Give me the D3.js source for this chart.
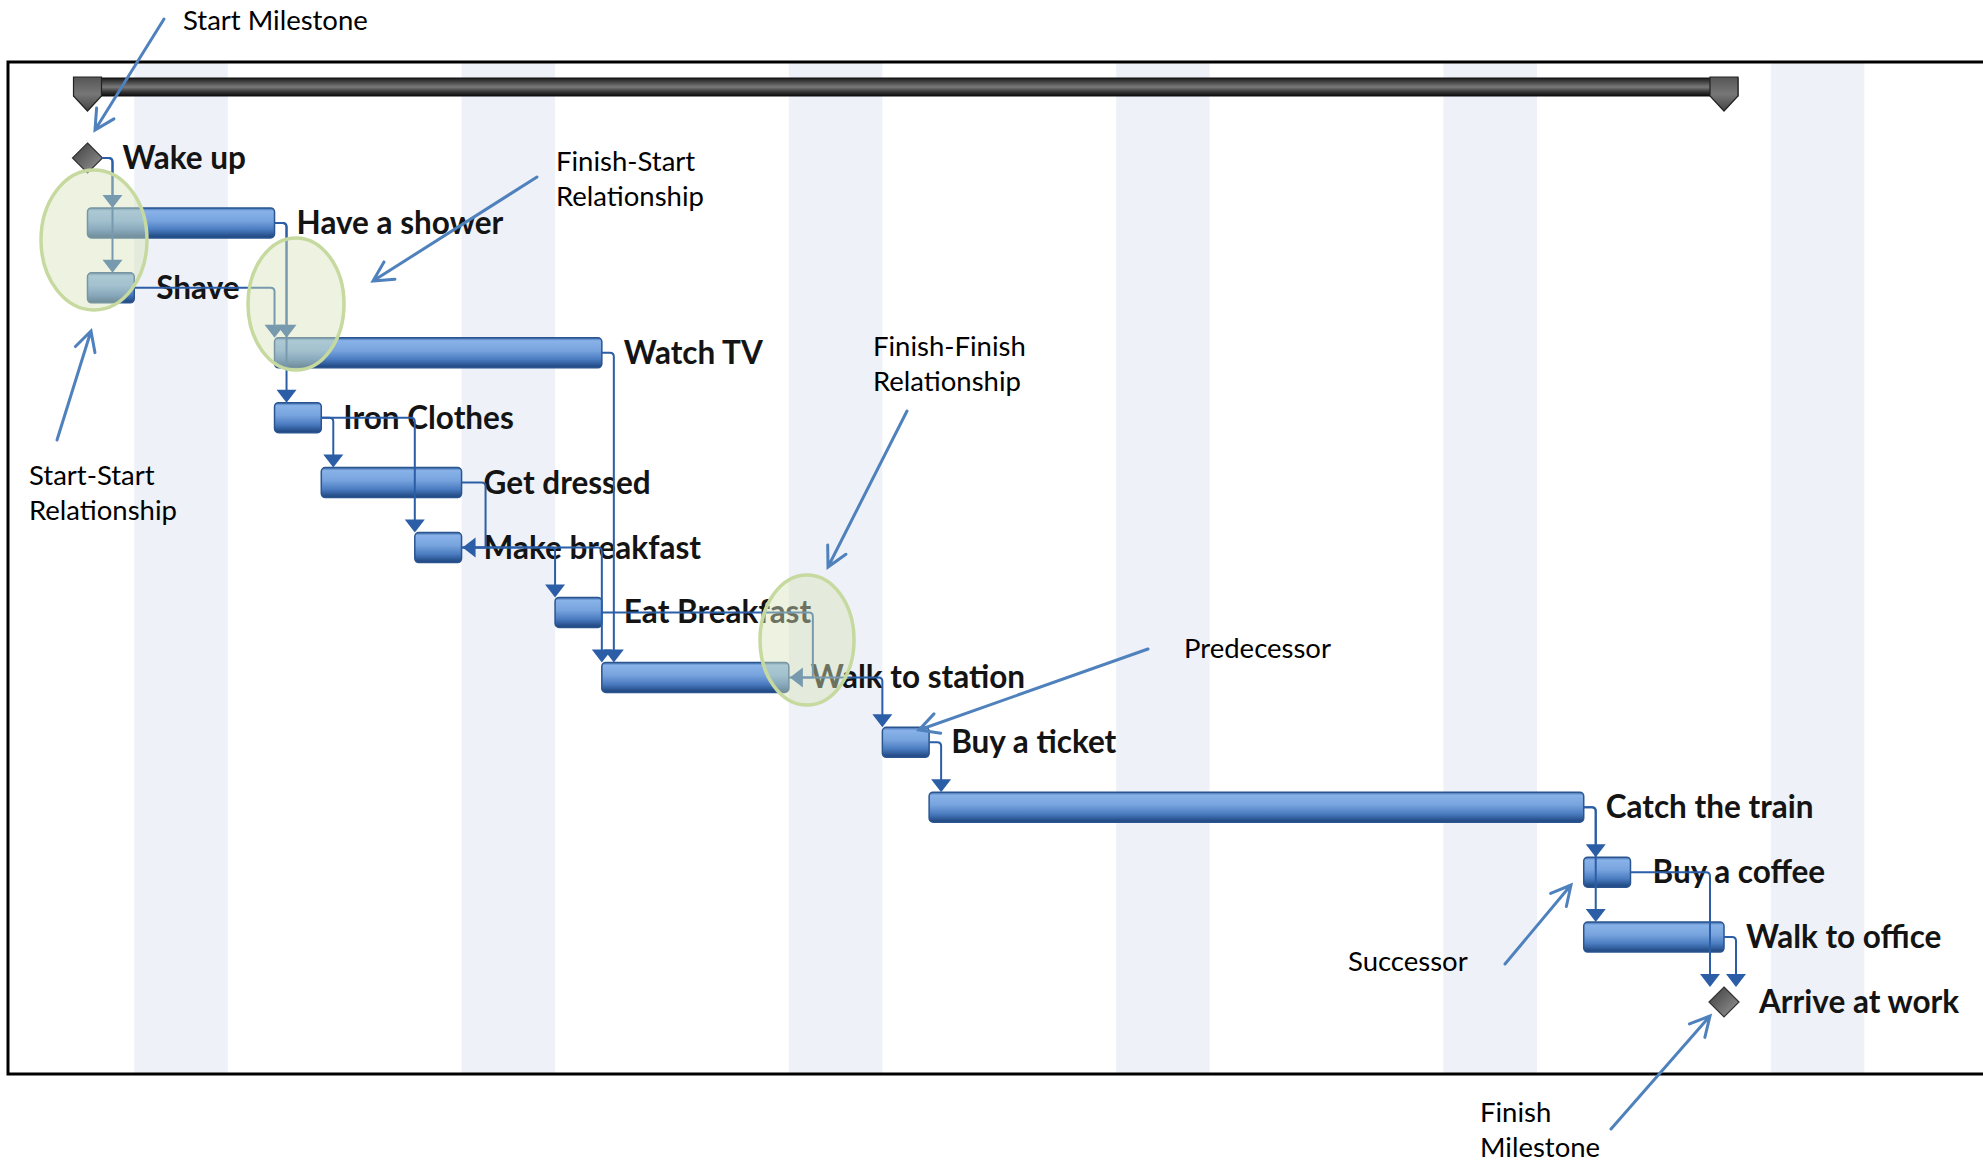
<!DOCTYPE html>
<html>
<head>
<meta charset="utf-8">
<script src="https://cdn.jsdelivr.net/npm/d3@7"></script>
<style>
  html, body { margin: 0; padding: 0; background: #ffffff; }
  svg { display: block; }
  .task-label { font-family: Lato, "Open Sans", sans-serif; font-weight: 700; font-size: 31.5px; fill: #141414; }
  .note { font-family: Lato, "Open Sans", sans-serif; font-weight: 400; font-size: 27.5px; fill: #000; }
</style>
</head>
<body>
<svg id="chart" width="1983" height="1162"></svg>
<script>
// ---------- DATA ----------
const tasks  = ["Wake up", "Have a shower", "Shave", "Watch TV", "Iron Clothes", "Get dressed",
                "Make breakfast", "Eat Breakfast", "Walk to station", "Buy a ticket",
                "Catch the train", "Buy a coffee", "Walk to office", "Arrive at work"];
const starts = [0, 0, 0, 4, 4, 5, 7, 10, 11, 17, 18, 32, 32, 35];   // day units
const ends   = [0, 4, 1, 11, 5, 8, 8, 11, 15, 18, 32, 33, 35, 35];
// dependencies: [predecessor index, successor index, type]
const linkPred = [0, 0, 1, 2, 1, 3, 4, 4, 5, 6, 6, 7, 8, 9, 10, 10, 11, 12];
const linkSucc = [1, 2, 3, 3, 4, 8, 5, 6, 6, 7, 8, 8, 9, 10, 11, 12, 13, 13];
const linkType = ["FS","FS","FS","FS","FS","FS","FS","FS","FF","FS","FS","FF","FS","FS","FS","FS","FS","FS"];
const weekendStarts = [1, 8, 15, 22, 29, 36];   // shaded non-working days (2 days each)
const weekendLength = 2;

// callouts (layout)
const noteTexts = [["Start Milestone"], ["Finish-Start", "Relationship"], ["Start-Start", "Relationship"],
                   ["Finish-Finish", "Relationship"], ["Predecessor"], ["Successor"], ["Finish", "Milestone"]];

// ---------- LAYOUT ----------
const W = 1983, H = 1162;
const frame = { left: 8, top: 62, bottom: 1074 };
const x = d3.scaleLinear().domain([0, 35]).range([87.5, 1724]);
const y = d3.scalePoint().domain(d3.range(tasks.length)).range([158, 1002]);
const barH = 30, dHalf = 15, arrowW = 20, arrowH = 13;
const linkColor = "#2b5ea6";

const svg = d3.select("#chart");
const defs = svg.append("defs");

const g1 = defs.append("linearGradient").attr("id", "barGrad").attr("x1", 0).attr("y1", 0).attr("x2", 0).attr("y2", 1);
[[0, "#3d6cac"], [0.1, "#88b2e8"], [0.42, "#78a4de"], [0.72, "#4b7cc1"], [0.9, "#2c5794"], [1, "#1e447c"]]
  .forEach(s => g1.append("stop").attr("offset", s[0]).attr("stop-color", s[1]));
const g2 = defs.append("linearGradient").attr("id", "sumGrad").attr("x1", 0).attr("y1", 0).attr("x2", 0).attr("y2", 1);
[[0, "#1a1a1a"], [0.25, "#4a4a4a"], [0.5, "#7a7a7a"], [0.75, "#3a3a3a"], [1, "#0c0c0c"]]
  .forEach(s => g2.append("stop").attr("offset", s[0]).attr("stop-color", s[1]));
const g3 = defs.append("linearGradient").attr("id", "capGrad").attr("x1", 0).attr("y1", 0).attr("x2", 0).attr("y2", 1);
[[0, "#555"], [0.5, "#777"], [1, "#444"]].forEach(s => g3.append("stop").attr("offset", s[0]).attr("stop-color", s[1]));
const g4 = defs.append("linearGradient").attr("id", "diaGrad").attr("x1", 0).attr("y1", 0).attr("x2", 1).attr("y2", 1);
[[0, "#3c3c3c"], [0.5, "#6a6a6a"], [1, "#9a9a9a"]].forEach(s => g4.append("stop").attr("offset", s[0]).attr("stop-color", s[1]));

// weekend stripes
svg.append("g").selectAll("rect").data(weekendStarts).join("rect")
  .attr("x", d => x(d)).attr("width", d => x(d + weekendLength) - x(d))
  .attr("y", frame.top).attr("height", frame.bottom - frame.top)
  .attr("fill", "#eef1f7");

// frame
svg.append("path")
  .attr("d", `M${W + 10},${frame.top} H${frame.left} V${frame.bottom} H${W + 10}`)
  .attr("fill", "none").attr("stroke", "#000").attr("stroke-width", 3);

// project summary bar
const sStart = d3.min(starts), sEnd = d3.max(ends);
const sumG = svg.append("g");
sumG.append("rect").attr("x", x(sStart) - 14).attr("width", x(sEnd) - x(sStart) + 28)
  .attr("y", 78).attr("height", 18).attr("fill", "url(#sumGrad)").attr("stroke", "#111").attr("stroke-width", 1);
[sStart, sEnd].forEach(t => {
  const cx = x(t);
  sumG.append("path")
    .attr("d", `M${cx - 14},77 H${cx + 14} V96 L${cx},111 L${cx - 14},96 Z`)
    .attr("fill", "url(#capGrad)").attr("stroke", "#222").attr("stroke-width", 1.2);
});

// task bars
const isMs = i => starts[i] === ends[i];
const idx = d3.range(tasks.length);
svg.append("g").selectAll("rect").data(idx.filter(i => !isMs(i))).join("rect")
  .attr("x", i => x(starts[i])).attr("width", i => x(ends[i]) - x(starts[i]))
  .attr("y", i => y(i) - barH / 2).attr("height", barH)
  .attr("rx", 4).attr("fill", "url(#barGrad)").attr("stroke", "#2a558f").attr("stroke-width", 1.5);

// milestones
svg.append("g").selectAll("path").data(idx.filter(isMs)).join("path")
  .attr("d", i => { const cx = x(starts[i]), cy = y(i);
    return `M${cx},${cy - dHalf} L${cx + dHalf},${cy} L${cx},${cy + dHalf} L${cx - dHalf},${cy} Z`; })
  .attr("fill", "url(#diaGrad)").attr("stroke", "#333").attr("stroke-width", 1.2);

// labels
svg.append("g").selectAll("text").data(idx).join("text")
  .attr("class", "task-label")
  .attr("x", i => isMs(i) ? x(ends[i]) + 35 : x(ends[i]) + 22)
  .attr("y", i => y(i) + 11)
  .text(i => tasks[i]);

// dependency links
const linkG = svg.append("g");
linkPred.forEach((p, k) => {
  const s = linkSucc[k], type = linkType[k];
  const yp = y(p), ys = y(s);
  if (type === "FS") {
    const x0 = x(ends[p]) + (isMs(p) ? dHalf : 0);
    const hook = isMs(p) ? 10 : 12;
    const target = isMs(s) ? x(starts[s]) - 14 : x(starts[s]);
    const dx = Math.max(x0 + hook, target);
    const tipY = ys - (isMs(s) ? dHalf : barH / 2);
    linkG.append("path")
      .attr("d", `M${x0},${yp} H${dx - 4} Q${dx},${yp} ${dx},${yp + 4} V${tipY - arrowH + 1}`)
      .attr("fill", "none").attr("stroke", linkColor).attr("stroke-width", 2);
    linkG.append("path")
      .attr("d", `M${dx - arrowW / 2},${tipY - arrowH} H${dx + arrowW / 2} L${dx},${tipY} Z`)
      .attr("fill", linkColor);
  } else { // FF
    const x0 = x(ends[p]), xe = x(ends[s]);
    const fx = Math.max(x0, xe) + 24;
    linkG.append("path")
      .attr("d", `M${x0},${yp} H${fx - 4} Q${fx},${yp} ${fx},${yp + 4} V${ys} H${xe + arrowH}`)
      .attr("fill", "none").attr("stroke", linkColor).attr("stroke-width", 2);
    linkG.append("path")
      .attr("d", `M${xe + arrowH + 1},${ys - arrowW / 2} V${ys + arrowW / 2} L${xe + 1},${ys} Z`)
      .attr("fill", linkColor);
  }
});

// highlight ellipses (callout layout)
const ellipses = [[94, 240, 53, 70], [296, 304, 48, 66], [807, 640, 47, 65]];
svg.append("g").selectAll("ellipse").data(ellipses).join("ellipse")
  .attr("cx", d => d[0]).attr("cy", d => d[1]).attr("rx", d => d[2]).attr("ry", d => d[3])
  .attr("fill", "rgba(214,228,186,0.45)").attr("stroke", "#c6d99f").attr("stroke-width", 3.5);

// callout texts (layout)
const notePos = [[183, 30], [556, 171], [29, 485], [873, 356], [1184, 658], [1348, 971], [1480, 1122]];
const noteG = svg.append("g");
noteTexts.forEach((lines, k) => {
  lines.forEach((t, j) => {
    noteG.append("text").attr("class", "note")
      .attr("x", notePos[k][0]).attr("y", notePos[k][1] + j * 35).text(t);
  });
});

// callout arrows (layout)
const noteArrows = [[164, 19, 95, 130], [537, 177, 373, 281], [57, 440, 91, 331], [907, 411, 828, 567],
                    [1148, 649, 919, 730], [1505, 964, 1571, 885], [1611, 1129, 1710, 1016]];
noteArrows.forEach(a => {
  const [x1, y1, x2, y2] = a;
  const ang = Math.atan2(y2 - y1, x2 - x1), L = 22, spread = Math.PI / 6.5;
  const p1 = [x2 - L * Math.cos(ang - spread), y2 - L * Math.sin(ang - spread)];
  const p2 = [x2 - L * Math.cos(ang + spread), y2 - L * Math.sin(ang + spread)];
  noteG.append("path")
    .attr("d", `M${x1},${y1} L${x2},${y2} M${p1[0]},${p1[1]} L${x2},${y2} L${p2[0]},${p2[1]}`)
    .attr("fill", "none").attr("stroke", "#4f81bd").attr("stroke-width", 3).attr("stroke-linecap", "round");
});
</script>
</body>
</html>
